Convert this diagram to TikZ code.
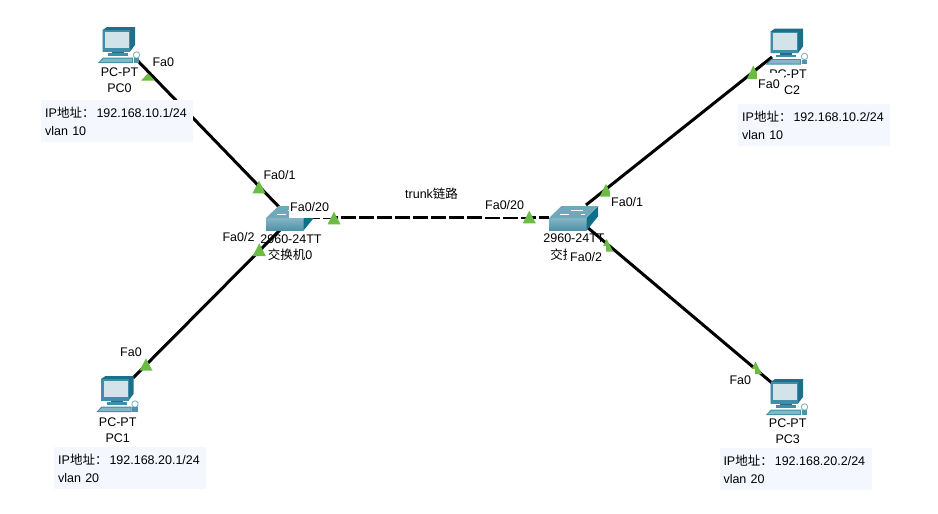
\documentclass[tikz,border=0pt]{standalone}
\usepackage{fontspec}
\setmainfont{Liberation Sans}
\newfontfamily\cjk{Noto Sans CJK SC}
\definecolor{portgreen}{HTML}{6CBB45}
\definecolor{infobg}{HTML}{F5F7FF}
\definecolor{monfront}{HTML}{3F8DA8}
\definecolor{mondark}{HTML}{1F6F8B}
\definecolor{monscreen}{HTML}{D3E3EA}
\definecolor{swlight}{HTML}{84B6C7}
\definecolor{swfront}{HTML}{4F91A9}
\definecolor{swside}{HTML}{0F7088}
\definecolor{swtop}{HTML}{6FA8BB}
\tikzset{
  link/.style={line width=3pt, black},
  trunk/.style={line width=3pt, black, dash pattern=on 15pt off 3pt},
  devlabel/.style={font=\fontsize{12.5}{14}\selectfont, inner sep=0pt},
  portlabel/.style={font=\fontsize{12.5}{14}\selectfont, fill=white, anchor=west, inner xsep=1pt, inner ysep=0pt,
    minimum height=23pt, execute at end node={\kern3pt}},
  infobox/.style={font=\fontsize{12.5}{18}\selectfont, fill=infobg, anchor=north west, align=left,
    text width=144pt, inner xsep=4pt, inner ysep=3pt, minimum height=42pt},
  pcicon/.pic={
    \fill[mondark] (-15.5,-15) -- (-11,-18) -- (17,-18) -- (17,0) -- (12,6.5) -- (-15.5,6.5) -- cycle;
    \fill[monfront] (-15.5,-15) rectangle (12,6.5);
    \fill[monscreen] (-13,-13.5) rectangle (11,3.3);
    \fill[mondark] (-6,6.5) rectangle (6,8);
    \fill[monfront] (-10,8) rectangle (10,10.5);
    \fill[monfront] (-20,18) -- (-15,12.5) -- (15,12.5) -- (15,18) -- cycle;
    \fill[swlight] (-18,17) -- (-14,13.5) -- (14,13.5) -- (14,17) -- cycle;
    \draw[swlight, line width=0.9pt, fill=white] (18.5,10) circle (3.2pt);
    \fill[swfront] (15.5,13) rectangle (21,17.5);
  },
  swicon/.pic={
    \shade[top color=swlight, bottom color=swfront] (0,0) rectangle (37.5,12.5);
    \fill[swside] (37.5,0) -- (49,-12) -- (49,-1.5) -- (37.5,12.5) -- cycle;
    \fill[swtop] (0,0) -- (12.5,-12) -- (49,-12) -- (37.5,0) -- cycle;
    \draw[white, line width=0.8pt] (11,-3.5) -- (20,-3.5) (22,-8) -- (34,-8) (32,-3.5) -- (36,-3.5);
  },
}
\newcommand{\porttri}[3]{\fill[portgreen] (#1) -- ++(-#2/2,#3) -- ++(#2,0) -- cycle;}
\newcommand{\addr}{IP{\cjk 地址：}\kern2pt}

\begin{document}
\begin{tikzpicture}[x=1pt,y=-1pt]
  \useasboundingbox (0,0) rectangle (938,514);

  % device positions
  \coordinate (pc0) at (118,45);
  \coordinate (pc1) at (116.5,394);
  \coordinate (pc2) at (786,46.5);
  \coordinate (pc3) at (786,397);
  \coordinate (sw0) at (266,218);
  \coordinate (sw1) at (549,218);

  % link ends
  \coordinate (pc0p) at (136,59);
  \coordinate (pc1p) at (133,378);
  \coordinate (pc2p) at (772,57);
  \coordinate (pc3p) at (772,383);
  \coordinate (sw0a) at (281,209);
  \coordinate (sw0b) at (281,229);
  \coordinate (sw0c) at (305,217);
  \coordinate (sw1c) at (549,217);
  \coordinate (sw1a) at (586,205);
  \coordinate (sw1b) at (587,227);

  % device labels
  \node[devlabel] (pc0t) at (119.5,71.7) {PC-PT};
  \node[devlabel] (pc0n) at (119.5,87.7) {PC0};
  \node[devlabel] (pc1t) at (117.7,421.7) {PC-PT};
  \node[devlabel] (pc1n) at (117.7,438) {PC1};
  \node[devlabel] (pc2t) at (788,74) {PC-PT};
  \node[devlabel] (pc2n) at (788,90) {PC2};
  \node[devlabel] (pc3t) at (787.7,423) {PC-PT};
  \node[devlabel] (pc3n) at (787.7,439) {PC3};
  \node[devlabel] (sw0t) at (291,239) {2960-24TT};
  \node[devlabel] (sw0n) at (290,255) {\cjk 交换机\rmfamily 0};
  \node[devlabel] (sw1t) at (574,238) {2960-24TT};
  \node[devlabel] (sw1n) at (572.5,255) {\cjk 交换机\rmfamily 1};

  % links
  \draw[link] (pc0p) -- (sw0a);
  \draw[link] (pc1p) -- (sw0b);
  \draw[link] (pc2p) -- (sw1a);
  \draw[link] (pc3p) -- (sw1b);
  \draw[trunk] (sw0c) -- (sw1c);

  % icons
  \foreach \d in {pc0,pc1,pc2,pc3}{
    \pic at (\d) {pcicon};
  }
  \foreach \d in {sw0,sw1}{
    \pic at (\d) {swicon};
  }

  % port marks the labels cut into
  \porttri{148,73.3}{14}{7.4}
  \porttri{753.3,65.5}{13}{13.5}
  \porttri{755.5,361.7}{13}{12.5}
  \porttri{606,184}{13}{12.7}
  \porttri{606.7,239}{13}{12.7}

  % port labels
  \node[portlabel] (p0) at (151.3,62.3) {Fa0};
  \node[portlabel] (p1) at (119,352.3) {Fa0};
  \node[portlabel] (p2) at (757,84) {Fa0};
  \node[portlabel] (p3) at (728.3,380) {Fa0};
  \node[portlabel] (s0a) at (262.3,175) {Fa0/1};
  \node[portlabel] (s0b) at (221.3,237.3) {Fa0/2};
  \node[portlabel] (s0c) at (289,206.7) {Fa0/20};
  \node[portlabel] (s1c) at (484,205) {Fa0/20};
  \node[portlabel] (s1a) at (610,202.3) {Fa0/1};
  \node[portlabel] (s1b) at (567,257.3) {\kern2pt Fa0/2};
  \node[portlabel] (tr) at (404,194) {trunk{\cjk 链路}};

  % port marks on top
  \porttri{146,358.3}{13}{12.4}
  \porttri{259,180.7}{13}{12.6}
  \porttri{259.3,243.3}{13}{12.7}
  \porttri{334,211.7}{13}{12.6}
  \porttri{529.3,210.7}{13}{12.6}

  % address boxes
  \node[infobox] (ip0) at (41,100) {\addr 192.168.10.1/24\\vlan 10};
  \node[infobox] (ip1) at (54,446.7) {\addr 192.168.20.1/24\\vlan 20};
  \node[infobox] (ip2) at (738,104) {\addr 192.168.10.2/24\\vlan 10};
  \node[infobox] (ip3) at (719.3,448) {\addr 192.168.20.2/24\\vlan 20};
\end{tikzpicture}
\end{document}
